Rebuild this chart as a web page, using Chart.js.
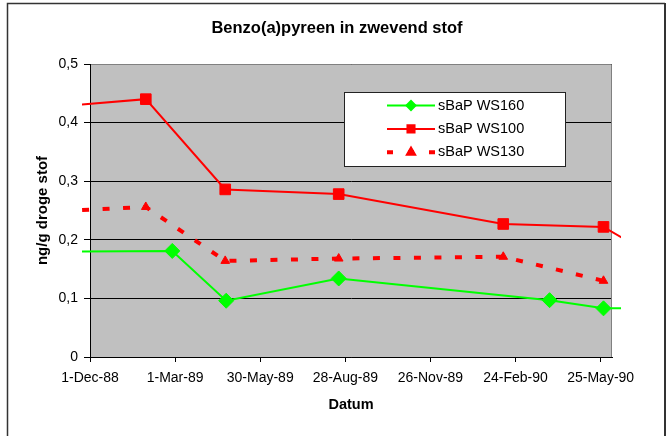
<!DOCTYPE html>
<html>
<head>
<meta charset="utf-8">
<script src="https://cdn.jsdelivr.net/npm/chart.js@4.4.1/dist/chart.umd.min.js"></script>
<style>
  html, body { margin: 0; padding: 0; background: #fff; }
  #chart { display: block; }
</style>
</head>
<body>
<canvas id="chart" width="669" height="436"></canvas>
<script>
const TITLE = 'Benzo(a)pyreen in zwevend stof';
const X_TITLE = 'Datum';
const Y_TITLE = 'ng/g droge stof';

const X_TICK_LABELS = ['1-Dec-88', '1-Mar-89', '30-May-89', '28-Aug-89', '26-Nov-89', '24-Feb-90', '25-May-90'];
const Y_TICK_LABELS = ['0', '0,1', '0,2', '0,3', '0,4', '0,5'];
const X_RANGE = ['1-Dec-88', '6-Jun-90'];

// first/last samples sit outside the axis range (Excel lets them poke out a bit)
const DATES_WS160 = ['1-Nov-88', '26-Feb-89', '24-Apr-89', '21-Aug-89', '1-Apr-90', '28-May-90', '28-Jun-90'];
const WS160 = [0.180, 0.181, 0.096, 0.134, 0.097, 0.083, 0.083];

const DATES_WS100 = ['1-Nov-88', '29-Jan-89', '23-Apr-89', '21-Aug-89', '11-Feb-90', '28-May-90', '28-Jun-90'];
const WS100 = [0.428, 0.440, 0.286, 0.278, 0.227, 0.222, 0.193];

const DATES_WS130 = ['1-Nov-88', '29-Jan-89', '23-Apr-89', '21-Aug-89', '11-Feb-90', '28-May-90'];
const WS130 = [0.249, 0.256, 0.164, 0.168, 0.171, 0.130];

const FONT = "'Liberation Sans', Arial, sans-serif";
const MONTHS = ['Jan', 'Feb', 'Mar', 'Apr', 'May', 'Jun', 'Jul', 'Aug', 'Sep', 'Oct', 'Nov', 'Dec'];

// days since 1-Dec-88
function dayOf(label) {
  const [d, m, y] = label.split('-');
  const t = Date.UTC(1900 + Number(y), MONTHS.indexOf(m), Number(d));
  return Math.round((t - Date.UTC(1988, 11, 1)) / 86400000);
}

function points(dates, values) {
  return dates.map((d, i) => ({ x: dayOf(d), y: values[i] }));
}

const frame = {
  id: 'frame',
  beforeDraw(chart) {
    const { ctx, chartArea: a } = chart;
    ctx.save();
    ctx.fillStyle = '#fff';
    ctx.fillRect(0, 0, chart.width, chart.height);
    ctx.strokeStyle = '#333';
    ctx.lineWidth = 1.5;
    ctx.beginPath();
    ctx.moveTo(7.5, chart.height + 2);
    ctx.lineTo(7.5, 3.5);
    ctx.lineTo(665, 3.5);
    ctx.stroke();
    ctx.lineWidth = 2;
    ctx.beginPath();
    ctx.moveTo(665, 3);
    ctx.lineTo(665, chart.height + 2);
    ctx.stroke();
    ctx.fillStyle = '#c0c0c0';
    ctx.fillRect(a.left, a.top, a.right - a.left, a.bottom - a.top);
    ctx.restore();
  },
  beforeDatasetsDraw(chart) {
    const { ctx, chartArea: a } = chart;
    ctx.save();
    ctx.strokeStyle = '#808080';
    ctx.lineWidth = 1;
    ctx.beginPath();
    ctx.moveTo(a.left + 1, a.top + 0.5);
    ctx.lineTo(a.right - 0.5, a.top + 0.5);
    ctx.lineTo(a.right - 0.5, a.bottom);
    ctx.stroke();
    ctx.restore();
  },
  afterDraw(chart) {
    const ctx = chart.ctx;
    ctx.save();
    ctx.fillStyle = '#000';
    ctx.font = `bold 16.5px ${FONT}`;
    ctx.textAlign = 'center';
    ctx.textBaseline = 'middle';
    ctx.fillText(TITLE, 337, 28.5);
    ctx.restore();
  }
};

const legendBox = {
  id: 'legendBox',
  afterDatasetsDraw(chart) {
    const ctx = chart.ctx;
    ctx.save();
    ctx.fillStyle = '#fff';
    ctx.fillRect(344, 92, 221, 75);
    ctx.strokeStyle = '#222';
    ctx.lineWidth = 1;
    ctx.strokeRect(344.5, 92.5, 221, 74);
    chart.data.datasets.forEach((ds, i) => {
      const y = 105.5 + i * 23.4;
      ctx.strokeStyle = ds.borderColor;
      ctx.lineWidth = ds.borderWidth;
      ctx.setLineDash(ds.borderDash ? [6, 15] : []);
      ctx.beginPath();
      ctx.moveTo(387, y);
      ctx.lineTo(435, y);
      ctx.stroke();
      ctx.setLineDash([]);
      ctx.fillStyle = ds.pointBackgroundColor;
      ctx.strokeStyle = ds.pointBorderColor;
      Chart.helpers.drawPoint(ctx, {
        pointStyle: ds.pointStyle, radius: ds.legendRadius, borderWidth: 1, rotation: 0
      }, 411, y);
      ctx.fillStyle = '#000';
      ctx.font = `14.5px ${FONT}`;
      ctx.textAlign = 'left';
      ctx.textBaseline = 'middle';
      ctx.fillText(ds.label, 438, y);
    });
    ctx.restore();
  }
};

const overhang = { left: 8, right: 9, top: 0, bottom: 0 };

new Chart(document.getElementById('chart'), {
  type: 'line',
  data: {
    datasets: [{
      label: 'sBaP WS160',
      data: points(DATES_WS160, WS160),
      borderColor: '#00ff00',
      borderWidth: 2,
      pointStyle: 'rectRot',
      pointRadius: 7.5,
      pointBorderWidth: 1,
      pointBackgroundColor: '#00ff00',
      pointBorderColor: '#00ff00',
      legendRadius: 4.5,
      clip: overhang,
    }, {
      label: 'sBaP WS100',
      data: points(DATES_WS100, WS100),
      borderColor: '#ff0000',
      borderWidth: 2,
      pointStyle: 'rect',
      pointRadius: 7.5,
      pointBorderWidth: 1,
      pointBackgroundColor: '#ff0000',
      pointBorderColor: '#ff0000',
      legendRadius: 5,
      clip: overhang,
    }, {
      label: 'sBaP WS130',
      data: points(DATES_WS130, WS130),
      borderColor: '#ff0000',
      borderWidth: 4,
      borderDash: [7, 13.5],
      pointStyle: 'triangle',
      pointRadius: 5,
      pointBorderWidth: 1,
      pointBackgroundColor: '#ff0000',
      pointBorderColor: '#ff0000',
      legendRadius: 2.8,
      clip: overhang,
    }],
  },
  options: {
    responsive: false,
    animation: false,
    events: [],
    devicePixelRatio: 1,
    layout: { padding: { left: 0, top: 64, right: 57, bottom: 0 } },
    plugins: {
      legend: { display: false },
      title: { display: false },
      tooltip: { enabled: false },
    },
    scales: {
      x: {
        type: 'linear',
        min: dayOf(X_RANGE[0]),
        max: dayOf(X_RANGE[1]),
        afterBuildTicks: (scale) => {
          scale.ticks = X_TICK_LABELS.map((l) => ({ value: dayOf(l) }));
        },
        afterFit: (scale) => { scale.height = 79; },
        ticks: {
          autoSkip: false,
          maxRotation: 0,
          padding: 8,
          color: '#000',
          font: { family: FONT, size: 14 },
          callback: (v, i) => X_TICK_LABELS[i],
        },
        grid: { drawOnChartArea: false, tickLength: 5, color: '#000' },
        border: { color: '#000', width: 1 },
        title: {
          display: true,
          text: X_TITLE,
          color: '#000',
          font: { family: FONT, size: 14.5, weight: 'bold' },
          padding: { top: 0, bottom: 22 },
        },
      },
      y: {
        min: 0,
        max: 0.5,
        afterBuildTicks: (scale) => {
          scale.ticks = Y_TICK_LABELS.map((l) => ({ value: Number(l.replace(',', '.')) }));
        },
        afterFit: (scale) => { scale.width = 90; },
        ticks: {
          padding: 6,
          color: '#000',
          font: { family: FONT, size: 14 },
          callback: (v, i) => Y_TICK_LABELS[i],
        },
        grid: { color: '#000', tickLength: 6 },
        border: { color: '#000', width: 1 },
        title: {
          display: true,
          text: Y_TITLE,
          color: '#000',
          font: { family: FONT, size: 15, weight: 'bold' },
          padding: { top: 34, bottom: 0 },
        },
      },
    },
  },
  plugins: [frame, legendBox],
});
</script>
</body>
</html>
